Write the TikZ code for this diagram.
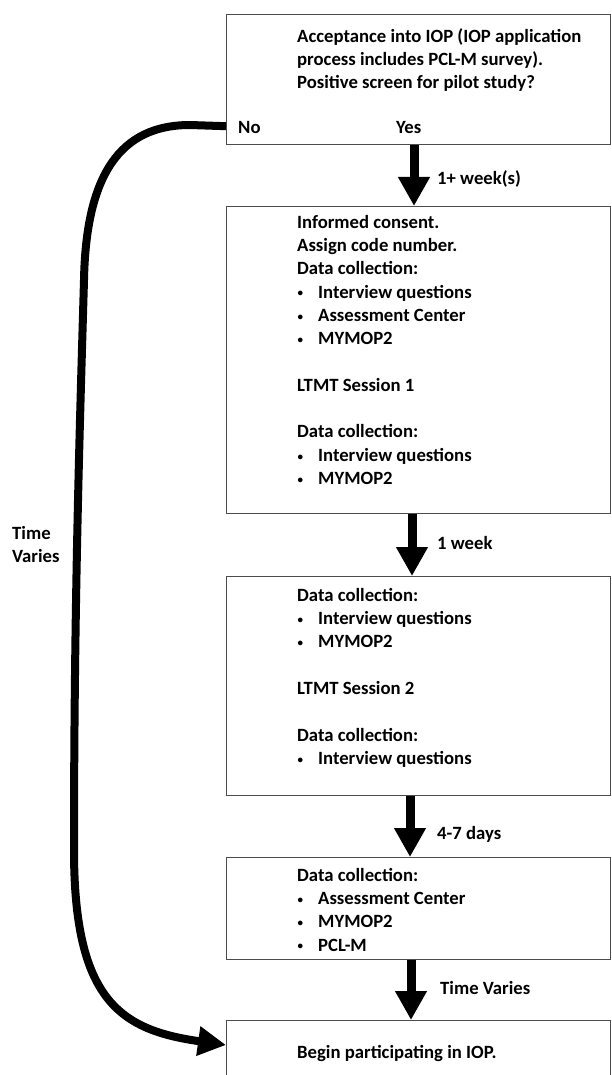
\documentclass[tikz,border=0pt]{standalone}
\usepackage{fontspec}
\setmainfont{Carlito}
\usetikzlibrary{arrows.meta}
\newcommand{\bul}{\makebox[21pt][l]{\hspace{0.5pt}\raisebox{1.2pt}{\fontsize{11}{11}\selectfont\textbullet}}}
\begin{document}
\begin{tikzpicture}[x=1pt,y=-1pt,
  box/.style={draw=black!70, line width=1.2pt, fill=white, rectangle, inner sep=0pt,
    minimum width=384pt, anchor=north west},
  txt/.style={anchor=north west, inner sep=0pt, align=left,
    font=\fontsize{18.7}{23.3}\selectfont\bfseries},
  lbl/.style={anchor=base west, inner sep=0pt,
    font=\fontsize{18.7}{23.3}\selectfont\bfseries},
  flow/.style={line width=9pt, -{Triangle[width=30pt,length=29pt]}},
  curved/.style={line width=8pt, -{Triangle[width=28pt,length=28pt]}}]
\useasboundingbox (0,0) rectangle (611,1075);
\clip (0,0) rectangle (611,1075);
\fill[white] (0,0) rectangle (611,1075);

% boxes
\node[box, minimum height=130pt] (b1) at (226,14) {};
\node[box, minimum height=307pt] (b2) at (226,206) {};
\node[box, minimum height=219pt] (b3) at (226,576) {};
\node[box, minimum height=102pt] (b4) at (226,857) {};
\node[box, minimum height=80pt] (b5) at (226,1020) {};

% box texts
\node[txt] (t1) at (297,25.7) {\strut Acceptance into IOP (IOP application\\process includes PCL-M survey).\\Positive screen for pilot study?};
\node[lbl] (no) at (238,134) {No};
\node[lbl] (yes) at (396,134) {Yes};
\node[txt] (t2) at (297,211.7) {\strut Informed consent.\\Assign code number.\\Data collection:\\\bul Interview questions\\\bul Assessment Center\\\bul MYMOP2\\\mbox{}\\LTMT Session 1\\\mbox{}\\Data collection:\\\bul Interview questions\\\bul MYMOP2};
\node[txt] (t3) at (297,584.7) {\strut Data collection:\\\bul Interview questions\\\bul MYMOP2\\\mbox{}\\LTMT Session 2\\\mbox{}\\Data collection:\\\bul Interview questions};
\node[txt] (t4) at (297,864.7) {\strut Data collection:\\\bul Assessment Center\\\bul MYMOP2\\\bul PCL-M};
\node[lbl] (t5) at (297,1058) {Begin participating in IOP.};

% arrow labels
\node[lbl] (l1) at (437,185) {1+ week(s)};
\node[lbl] (l2) at (437,549) {1 week};
\node[lbl] (l3) at (437,839) {4-7 days};
\node[lbl] (l4) at (440,994) {Time Varies};
\node[txt] (tv) at (12,522.7) {\strut Time\\Varies};

% vertical arrows
\coordinate (a1) at (414,0);
\coordinate (a2) at (412,0);
\coordinate (a3) at (410,0);
\coordinate (a4) at (411,0);
\draw[flow] (b1.south -| a1) -- (b2.north -| a1);
\draw[flow] (b2.south -| a2) -- (b3.north -| a2);
\draw[flow] (b3.south -| a3) -- (b4.north -| a3);
\draw[flow] (b4.south -| a4) -- (b5.north -| a4);

% No branch
\draw[curved] ([yshift=19pt]b1.south west) -- (190,125)
  .. controls (120,125) and (86,175) .. (84,280)
  .. controls (80,420) and (74,600) .. (74,850)
  .. controls (74,1000) and (120,1030) .. ([yshift=-25pt]b5.north west);
\end{tikzpicture}
\end{document}
